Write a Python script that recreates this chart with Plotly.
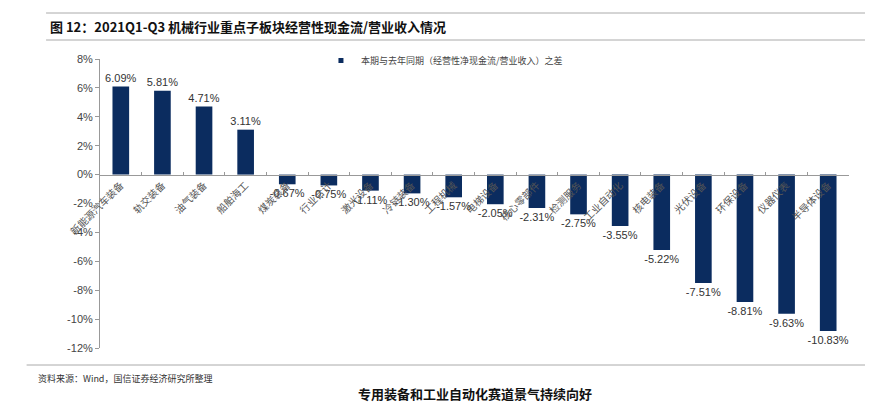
import plotly.graph_objects as go

categories = ["新能源汽车装备", "轨交装备", "油气装备", "船舶海工", "煤炭装备", "行业合计",
              "激光设备", "冷链装备", "工程机械", "电梯设备", "核心零部件", "检测服务",
              "工业自动化", "核电装备", "光伏设备", "环保设备", "仪器仪表", "半导体设备"]
values = [6.09, 5.81, 4.71, 3.11, -0.67, -0.75, -1.11, -1.30, -1.57, -2.05, -2.31, -2.75,
          -3.55, -5.22, -7.51, -8.81, -9.63, -10.83]
series_name = "本期与去年同期（经营性净现金流/营业收入）之差"
y_ticks = [8, 6, 4, 2, 0, -2, -4, -6, -8, -10, -12]

font_cjk = "Noto Sans CJK SC"
bar_color = "#0b2c5f"

fig = go.Figure()
fig.add_trace(go.Bar(
    x=categories, y=values, name=series_name, showlegend=False,
    marker=dict(color=bar_color, line=dict(width=0)),
    text=[f"{v:.2f}%" for v in values], textposition="outside",
    constraintext="none",
    textfont=dict(size=11, color="#333333", family="Liberation Sans"),
    cliponaxis=False,
))
# legend entry with small square marker
fig.add_trace(go.Scatter(
    x=[None], y=[None], mode="markers", name=series_name, showlegend=True,
    marker=dict(symbol="square", size=5, color=bar_color),
))

fig.update_layout(
    width=873, height=404,
    margin=dict(l=92, r=32, t=51, b=64),
    paper_bgcolor="white", plot_bgcolor="white",
    bargap=0.6,
    showlegend=True,
    legend=dict(x=0.295, y=1.045, xanchor="left", yanchor="top",
                font=dict(size=9, family=font_cjk, color="#444444"),
                bgcolor="rgba(0,0,0,0)", itemwidth=30, tracegroupgap=0),
    xaxis=dict(
        type="category", anchor="free", position=0.6,
        showline=True, linecolor="#999999", linewidth=1,
        ticks="inside", ticklen=3, tickcolor="#999999", tickson="boundaries",
        tickangle=-45, tickfont=dict(size=10, family=font_cjk, color="#555555"),
        showgrid=False, zeroline=False,
    ),
    yaxis=dict(
        range=[-12, 8], tickvals=y_ticks, ticktext=[f"{t}%" for t in y_ticks],
        showline=True, linecolor="#999999", linewidth=1,
        ticks="outside", ticklen=4, tickcolor="#999999",
        tickfont=dict(size=11, family="Liberation Sans", color="#444444"),
        showgrid=False, zeroline=False,
    ),
)

fig.add_annotation(
    text="<b>图 12：2021Q1-Q3 机械行业重点子板块经营性现金流/营业收入情况</b>",
    xref="paper", yref="paper", x=-0.07, y=1.0, yshift=33,
    xanchor="left", yanchor="middle", showarrow=False,
    font=dict(size=13, family=font_cjk, color="#111111"),
)
fig.add_annotation(
    text="资料来源：Wind，国信证券经济研究所整理",
    xref="paper", yref="paper", x=-0.085, y=0, yshift=-30,
    xanchor="left", yanchor="middle", showarrow=False,
    font=dict(size=9, family=font_cjk, color="#333333"),
)
fig.add_annotation(
    text="<b>专用装备和工业自动化赛道景气持续向好</b>",
    xref="paper", yref="paper", x=0.5, y=0, yshift=-57,
    xanchor="center", yanchor="bottom", showarrow=False,
    font=dict(size=13, family=font_cjk, color="#111111"),
)
fig.update_layout(shapes=[
    dict(type="line", xref="paper", yref="paper", x0=-0.072, x1=1.025,
         y0=1 + (51 - 5) / 289, y1=1 + (51 - 5) / 289, line=dict(color="#aaaaaa", width=1)),
    dict(type="line", xref="paper", yref="paper", x0=-0.072, x1=1.025,
         y0=1 + (51 - 32) / 289, y1=1 + (51 - 32) / 289, line=dict(color="#aaaaaa", width=1)),
    dict(type="line", xref="paper", yref="paper", x0=-0.098, x1=1.025,
         y0=-(357 - 340) / 289, y1=-(357 - 340) / 289, line=dict(color="#aaaaaa", width=1)),
])

fig.write_html("out.html")
